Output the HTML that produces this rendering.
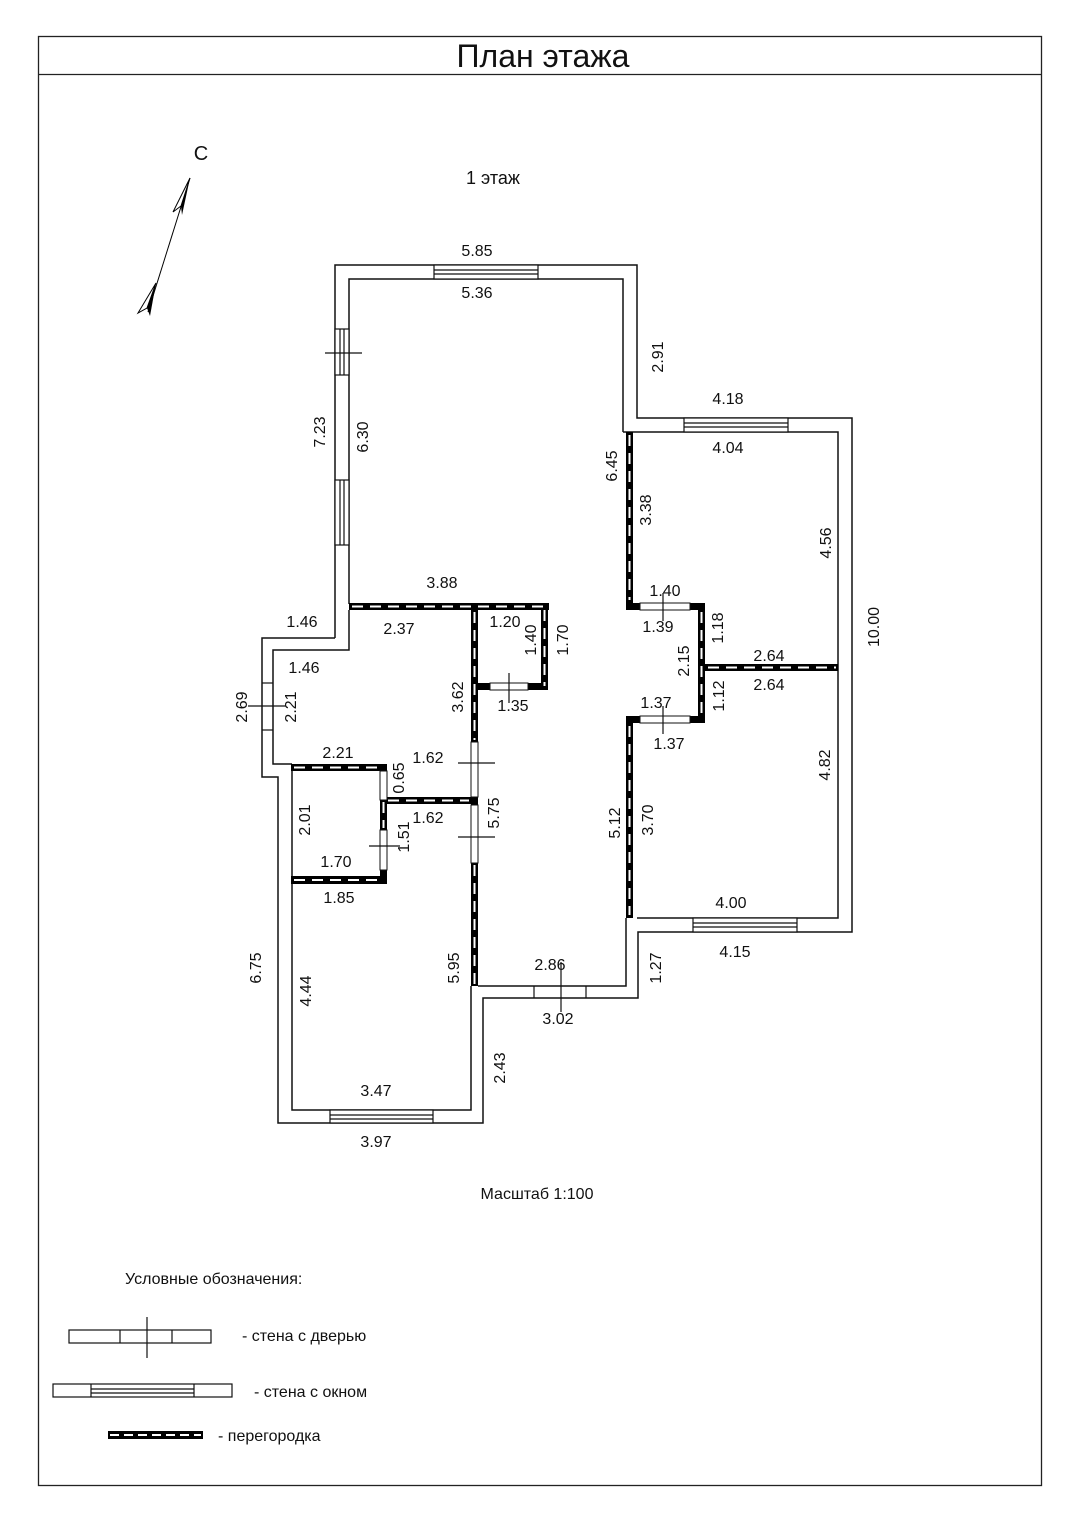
<!DOCTYPE html>
<html><head><meta charset="utf-8"><style>
body{margin:0;background:#fff}
svg{display:block}
text{font-family:"Liberation Sans",sans-serif;fill:#111}
</style></head><body>
<svg width="1080" height="1525" viewBox="0 0 1080 1525" xmlns="http://www.w3.org/2000/svg">
<rect x="38.5" y="36.5" width="1003" height="1449" fill="none" stroke="#222" stroke-width="1.3"/>
<line x1="38" y1="74.5" x2="1041" y2="74.5" stroke="#222" stroke-width="1.3"/>
<text x="543" y="67" font-size="32" text-anchor="middle">План этажа</text>
<text x="493" y="184" font-size="18" text-anchor="middle">1 этаж</text>
<text x="201" y="160" font-size="20" text-anchor="middle">С</text>
<!-- compass -->
<line x1="148" y1="312" x2="190" y2="178" stroke="#000" stroke-width="1"/>
<polygon points="190,178 173,212 181,206" fill="#fff" stroke="#000" stroke-width="1"/>
<polygon points="190,178 181,206 182,215" fill="#000"/>
<polygon points="156,283 138,313 147,308" fill="#fff" stroke="#000" stroke-width="1"/>
<polygon points="156,283 147,308 150,316" fill="#000"/>

<g fill="none" stroke="#111" stroke-width="1.5">
<!-- outer -->
<polyline points="335,638 335,265 637,265 637,418 852,418 852,932 638,932 638,998 483,998 483,1123 278,1123 278,777 262,777 262,638 335,638"/>
<!-- inner main -->
<polyline points="349,604 349,279 623,279 623,432"/>
<polyline points="637,432 838,432 838,918 637,918"/>
<polyline points="626,918 626,986 478,986"/>
<polyline points="471,986 471,1110 292,1110 292,770"/>
<polyline points="292,764 273,764 273,650 349,650 349,610"/>
<line x1="623" y1="432" x2="637" y2="432"/>
</g>
<!-- windows -->
<g fill="#fff" stroke="#111" stroke-width="1.2">
<rect x="434" y="265" width="104" height="14"/>
<line x1="434" y1="270" x2="538" y2="270"/><line x1="434" y1="274" x2="538" y2="274"/>
<rect x="684" y="418" width="104" height="14"/>
<line x1="684" y1="423" x2="788" y2="423"/><line x1="684" y1="427" x2="788" y2="427"/>
<rect x="693" y="918" width="104" height="14"/>
<line x1="693" y1="923" x2="797" y2="923"/><line x1="693" y1="927" x2="797" y2="927"/>
<rect x="330" y="1110" width="103" height="13"/>
<line x1="330" y1="1115" x2="433" y2="1115"/><line x1="330" y1="1119" x2="433" y2="1119"/>
<rect x="335" y="480" width="14" height="65"/>
<line x1="340" y1="480" x2="340" y2="545"/><line x1="344" y1="480" x2="344" y2="545"/>
<rect x="335" y="329" width="14" height="46"/>
<line x1="340" y1="329" x2="340" y2="375"/><line x1="344" y1="329" x2="344" y2="375"/>
</g>
<!-- doors on walls -->
<g stroke="#111" stroke-width="1.2">
<line x1="325" y1="353" x2="362" y2="353"/>
<line x1="262" y1="683" x2="273" y2="683"/><line x1="262" y1="730" x2="273" y2="730"/>
<line x1="248" y1="706" x2="286" y2="706"/>
<line x1="534" y1="986" x2="534" y2="998"/><line x1="586" y1="986" x2="586" y2="998"/>
<line x1="561" y1="962" x2="561" y2="1012"/>
</g>
<!-- partitions -->
<g>
<rect x="349" y="603" width="200" height="7" fill="#000"/>
<rect x="541" y="603" width="7" height="87" fill="#000"/>
<rect x="478" y="683" width="70" height="7" fill="#000"/>
<rect x="490" y="683" width="38" height="7" fill="#fff" stroke="#111" stroke-width="1"/>
<rect x="471" y="603" width="7" height="383" fill="#000"/>
<rect x="471" y="742" width="7" height="55" fill="#fff" stroke="#111" stroke-width="1"/>
<rect x="471" y="805" width="7" height="58" fill="#fff" stroke="#111" stroke-width="1"/>
<rect x="385" y="797" width="86" height="7" fill="#000"/>
<rect x="291" y="764" width="96" height="7" fill="#000"/>
<rect x="380" y="764" width="7" height="120" fill="#000"/>
<rect x="380" y="771" width="7" height="29" fill="#fff" stroke="#111" stroke-width="1"/>
<rect x="380" y="830" width="7" height="40" fill="#fff" stroke="#111" stroke-width="1"/>
<rect x="291" y="876" width="96" height="8" fill="#000"/>
<rect x="626" y="432" width="7" height="178" fill="#000"/>
<rect x="626" y="603" width="79" height="7" fill="#000"/>
<rect x="640" y="603" width="50" height="7" fill="#fff" stroke="#111" stroke-width="1"/>
<rect x="698" y="603" width="7" height="120" fill="#000"/>
<rect x="705" y="664" width="133" height="7" fill="#000"/>
<rect x="626" y="716" width="79" height="7" fill="#000"/>
<rect x="640" y="716" width="50" height="7" fill="#fff" stroke="#111" stroke-width="1"/>
<rect x="626" y="716" width="7" height="202" fill="#000"/>
</g>
<g stroke="#fff" stroke-width="2" stroke-dasharray="11 7">
<line x1="352" y1="606.5" x2="546" y2="606.5"/>
<line x1="544.5" y1="610" x2="544.5" y2="686"/>
<line x1="474.5" y1="612" x2="474.5" y2="740"/>
<line x1="474.5" y1="865" x2="474.5" y2="984"/>
<line x1="388" y1="800.5" x2="469" y2="800.5"/>
<line x1="294" y1="767.5" x2="378" y2="767.5"/>
<line x1="383.5" y1="802" x2="383.5" y2="828"/>
<line x1="294" y1="880" x2="384" y2="880"/>
<line x1="629.5" y1="435" x2="629.5" y2="600"/>
<line x1="701.5" y1="612" x2="701.5" y2="720"/>
<line x1="708" y1="667.5" x2="836" y2="667.5"/>
<line x1="629.5" y1="726" x2="629.5" y2="915"/>
</g>
<!-- door crosses -->
<g stroke="#111" stroke-width="1.2">
<line x1="509" y1="673" x2="509" y2="703"/>
<line x1="458" y1="763" x2="495" y2="763"/>
<line x1="458" y1="837" x2="495" y2="837"/>
<line x1="369" y1="846" x2="400" y2="846"/>
<line x1="663" y1="593" x2="663" y2="621"/>
<line x1="663" y1="706" x2="663" y2="734"/>
</g>
<!-- labels -->
<g font-size="16" text-anchor="middle">
<text x="477" y="256">5.85</text><text x="477" y="298">5.36</text>
<text x="728" y="404">4.18</text><text x="728" y="453">4.04</text>
<text x="442" y="588">3.88</text><text x="302" y="627">1.46</text>
<text x="399" y="634">2.37</text><text x="505" y="627">1.20</text>
<text x="304" y="673">1.46</text><text x="513" y="711">1.35</text>
<text x="665" y="596">1.40</text><text x="658" y="632">1.39</text>
<text x="769" y="661">2.64</text><text x="769" y="690">2.64</text>
<text x="656" y="708">1.37</text><text x="669" y="749">1.37</text>
<text x="338" y="758">2.21</text><text x="428" y="763">1.62</text>
<text x="428" y="823">1.62</text><text x="336" y="867">1.70</text>
<text x="339" y="903">1.85</text><text x="731" y="908">4.00</text>
<text x="735" y="957">4.15</text><text x="550" y="970">2.86</text>
<text x="558" y="1024">3.02</text><text x="376" y="1096">3.47</text>
<text x="376" y="1147">3.97</text>
<text transform="translate(663,357) rotate(-90)">2.91</text>
<text transform="translate(617,466) rotate(-90)">6.45</text>
<text transform="translate(651,510) rotate(-90)">3.38</text>
<text transform="translate(831,543) rotate(-90)">4.56</text>
<text transform="translate(879,627) rotate(-90)">10.00</text>
<text transform="translate(325,432) rotate(-90)">7.23</text>
<text transform="translate(368,437) rotate(-90)">6.30</text>
<text transform="translate(536,640) rotate(-90)">1.40</text>
<text transform="translate(568,640) rotate(-90)">1.70</text>
<text transform="translate(247,707) rotate(-90)">2.69</text>
<text transform="translate(296,707) rotate(-90)">2.21</text>
<text transform="translate(463,697) rotate(-90)">3.62</text>
<text transform="translate(723,628) rotate(-90)">1.18</text>
<text transform="translate(689,661) rotate(-90)">2.15</text>
<text transform="translate(724,696) rotate(-90)">1.12</text>
<text transform="translate(404,778) rotate(-90)">0.65</text>
<text transform="translate(310,820) rotate(-90)">2.01</text>
<text transform="translate(409,837) rotate(-90)">1.51</text>
<text transform="translate(499,813) rotate(-90)">5.75</text>
<text transform="translate(620,823) rotate(-90)">5.12</text>
<text transform="translate(653,820) rotate(-90)">3.70</text>
<text transform="translate(830,765) rotate(-90)">4.82</text>
<text transform="translate(661,968) rotate(-90)">1.27</text>
<text transform="translate(459,968) rotate(-90)">5.95</text>
<text transform="translate(261,968) rotate(-90)">6.75</text>
<text transform="translate(311,991) rotate(-90)">4.44</text>
<text transform="translate(505,1068) rotate(-90)">2.43</text>
</g>
<text x="537" y="1199" font-size="16" text-anchor="middle">Масштаб 1:100</text>
<text x="125" y="1284" font-size="16">Условные обозначения:</text>
<!-- legend -->
<g fill="#fff" stroke="#111" stroke-width="1.2">
<rect x="69" y="1330" width="142" height="13"/>
<line x1="120" y1="1330" x2="120" y2="1343"/><line x1="172" y1="1330" x2="172" y2="1343"/>
<line x1="147" y1="1317" x2="147" y2="1358"/>
<rect x="53" y="1384" width="179" height="13"/>
<line x1="91" y1="1384" x2="91" y2="1397"/><line x1="194" y1="1384" x2="194" y2="1397"/>
<line x1="91" y1="1389" x2="194" y2="1389"/><line x1="91" y1="1393" x2="194" y2="1393"/>
</g>
<rect x="108" y="1431" width="95" height="8" fill="#000"/>
<line x1="110" y1="1435" x2="201" y2="1435" stroke="#fff" stroke-width="2" stroke-dasharray="9 5"/>
<text x="242" y="1341" font-size="16">- стена с дверью</text>
<text x="254" y="1397" font-size="16">- стена с окном</text>
<text x="218" y="1441" font-size="16">- перегородка</text>
</svg>
</body></html>
